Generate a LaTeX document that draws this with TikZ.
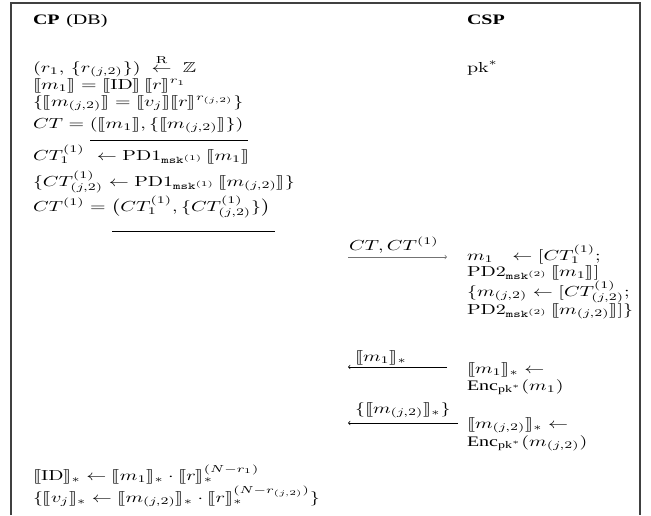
\documentclass[tikz,border=0pt]{standalone}
\usepackage{amsmath,amssymb,stmaryrd,graphicx}
\usepackage{fontspec}
\newfontfamily\timesf{Liberation Serif}
\newcommand\sxf{2.0}
\newcommand\syf{1.45}
\newcommand\Tx[1]{\scalebox{\sxf}[\syf]{#1}}
\newcommand\lb{\llbracket}
\newcommand\rb{\rrbracket}
\newcommand\msk[1]{\mathtt{msk}^{(#1)}}
\begin{document}
\begin{tikzpicture}[x=1pt,y=-1pt,
  txt/.style={anchor=base west,inner sep=0pt,outer sep=0pt},
  frameline/.style={draw=black!75,line width=1.6pt},
  msgarrow/.style={draw=black,line width=0.7pt,>=to},
  uline/.style={draw=black,line width=0.8pt}]
\useasboundingbox (0,0) rectangle (651,515);
\draw[frameline] (11,515) -- (11,3) -- (640,3) -- (640,515);
% left column
\node[txt] (cp) at (33,24) {\Tx{\textbf{\timesf CP} {\timesf (DB)}}};
\node[txt] (l1) at (33,72) {\Tx{$(r_1,\,\{r_{(j,2)}\})\;\stackrel{\mathrm{R}}{\leftarrow}\;\mathbb{Z}$}};
\node[txt] (l2) at (33,89) {\Tx{$\lb m_1\rb=\lb\mathrm{ID}\rb\,\lb r\rb^{r_1}$}};
\node[txt] (l3) at (33,106) {\Tx{$\{\lb m_{(j,2)}\rb=\lb v_j\rb\lb r\rb^{r_{(j,2)}}\}$}};
\node[txt] (l4) at (33,128) {\Tx{$CT=(\lb m_1\rb,\{\lb m_{(j,2)}\rb\})$}};
\node[txt] (l5) at (33,160) {\Tx{$CT_1^{(1)}\ \leftarrow\mathrm{PD1}_{\msk{1}}\,\lb m_1\rb$}};
\node[txt] (l6) at (33,186) {\Tx{$\{CT_{(j,2)}^{(1)}\leftarrow\mathrm{PD1}_{\msk{1}}\,\lb m_{(j,2)}\rb\}$}};
\node[txt] (l7) at (33,211) {\Tx{$CT^{(1)}=\bigl(CT_1^{(1)},\{CT_{(j,2)}^{(1)}\}\bigr)$}};
\draw[uline] (90,140) -- (248,140);
\draw[uline] (112,231) -- (275,231);
% right column
\node[txt] (csp) at (467,24) {\Tx{\textbf{\timesf CSP}}};
\node[txt] (pk) at (467,72) {\Tx{$\mathrm{pk}^*$}};
\node[txt] (r2) at (467,260) {\Tx{$m_1\ \ \leftarrow[CT_1^{(1)};$}};
\node[txt] (r3) at (467,276) {\Tx{$\mathrm{PD2}_{\msk{2}}\,\lb m_1\rb]$}};
\node[txt] (r4) at (467,296) {\Tx{$\{m_{(j,2)}\leftarrow[CT_{(j,2)}^{(1)};$}};
\node[txt] (r5) at (467,314) {\Tx{$\mathrm{PD2}_{\msk{2}}\,\lb m_{(j,2)}\rb]\}$}};
\node[txt] (r6) at (467,373) {\Tx{$\lb m_1\rb_*\leftarrow$}};
\node[txt] (r7) at (467,390) {\Tx{$\text{\timesf Enc}_{\text{\timesf pk}^*}(m_1)$}};
\node[txt] (r8) at (467,428) {\Tx{$\lb m_{(j,2)}\rb_*\leftarrow$}};
\node[txt] (r9) at (467,446) {\Tx{$\text{\timesf Enc}_{\text{\timesf pk}^*}(m_{(j,2)})$}};
% bottom left
\node[txt] (b1) at (33,480) {\Tx{$\lb\mathrm{ID}\rb_*\leftarrow\lb m_1\rb_*\cdot\lb r\rb_*^{(N-r_1)}$}};
\node[txt] (b2) at (33,502) {\Tx{$\{\lb v_j\rb_*\leftarrow\lb m_{(j,2)}\rb_*\cdot\lb r\rb_*^{(N-r_{(j,2)})}\}$}};
% messages
\coordinate (a1s) at (348,257);
\coordinate (a1e) at (447,257);
\coordinate (a2s) at (447,367);
\coordinate (a2e) at (348,367);
\coordinate (a3s) at (458,423);
\coordinate (a3e) at (348,423);
\draw[msgarrow,draw=black!55,->] (a1s) -- (a1e);
\draw[msgarrow,->] (a2s) -- (a2e);
\draw[msgarrow,->] (a3s) -- (a3e);
\node[txt] (m1) at (349,250) {\Tx{$CT,CT^{(1)}$}};
\node[txt] (m2) at (355,361) {\Tx{$\lb m_1\rb_*$}};
\node[txt] (m3) at (355,413) {\Tx{$\{\lb m_{(j,2)}\rb_*\}$}};
\end{tikzpicture}
\end{document}
